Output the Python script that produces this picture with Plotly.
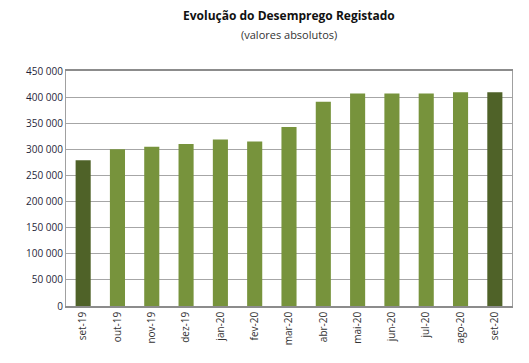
import plotly.graph_objects as go

categories = ["set-19", "out-19", "nov-19", "dez-19", "jan-20", "fev-20", "mar-20",
              "abr-20", "mai-20", "jun-20", "jul-20", "ago-20", "set-20"]
values = [279000, 300000, 305000, 310000, 319000, 315000, 343000,
          391000, 407000, 407000, 407000, 409500, 409500]
y_ticks = [0, 50000, 100000, 150000, 200000, 250000, 300000, 350000, 400000, 450000]

dark = "#4f6228"
light = "#77933c"
colors = [dark] + [light] * (len(categories) - 2) + [dark]

fig = go.Figure(go.Bar(
    x=categories, y=values,
    marker=dict(color=colors, line=dict(width=0)),
))

# page body has an 8px default margin, so the figure is drawn 8px smaller
fig.update_layout(
    width=521, height=355,
    margin=dict(l=58, r=17, t=63, b=57),
    paper_bgcolor="white", plot_bgcolor="white",
    bargap=0.56,
    separators=", ",
    showlegend=False,
    font=dict(family="Open Sans", size=10, color="#1a1a2e"),
)
fig.add_annotation(text="<b>Evolução do Desemprego Registado</b>", xref="paper", yref="paper",
                   x=0.5, y=1.0, yanchor="middle", yshift=56, showarrow=False,
                   font=dict(size=12, color="#111111", family="Open Sans"))
fig.add_annotation(text="(valores absolutos)", xref="paper", yref="paper",
                   x=0.5, y=1.0, yanchor="middle", yshift=37, showarrow=False,
                   font=dict(size=11, color="#333333", family="Open Sans"))

fig.update_yaxes(
    range=[0, 450000], tickvals=y_ticks, tickformat=",d",
    showgrid=True, gridcolor="#a6a6a6", gridwidth=1,
    showline=True, linecolor="#a0a0a0", linewidth=1, mirror=True,
    ticks="", zeroline=False,
    tickfont=dict(size=10, color="#1f1f3a"),
)
fig.update_xaxes(
    tickangle=-90, showline=True, linecolor="#8c8c8c", linewidth=1.5, mirror=True,
    ticks="", showgrid=False,
    tickfont=dict(size=10, color="#333333"),
)

fig.write_html("out.html")
